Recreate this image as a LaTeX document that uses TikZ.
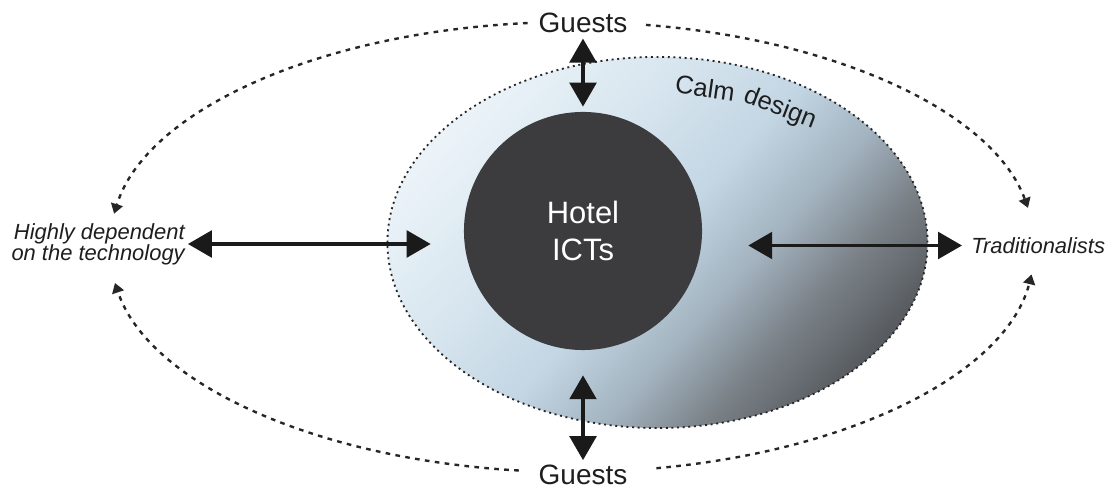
\documentclass[tikz,border=0pt]{standalone}
\usepackage{fontspec}
\setmainfont{Liberation Sans}
\usetikzlibrary{shapes.geometric, arrows.meta}

\definecolor{calmwhite}{HTML}{EBF3F8}
\definecolor{calmlight}{HTML}{D8E6EF}
\definecolor{calmblue}{HTML}{C3D6E4}
\definecolor{calmmid}{HTML}{A3B3C0}
\definecolor{calmgrey}{HTML}{7A8187}
\definecolor{calmdark}{HTML}{585C61}
\definecolor{corefill}{HTML}{3C3C3E}
\definecolor{arrowink}{HTML}{1A1A1A}
\definecolor{dotink}{HTML}{262626}
\definecolor{labelink}{HTML}{1E1E1E}

\pgfdeclarehorizontalshading{calmshade}{100bp}{color(0bp)=(calmwhite); color(25bp)=(calmwhite); color(38bp)=(calmlight); color(50bp)=(calmblue); color(59bp)=(calmmid); color(67bp)=(calmgrey); color(75bp)=(calmdark); color(100bp)=(calmdark)}

\begin{document}
\begin{tikzpicture}[x=0.025cm, y=0.025cm,
  calmzone/.style={ellipse, shade, shading=calmshade, shading angle=-42,
    draw=dotink, line width=1.3pt, dash pattern=on 1.4pt off 2.6pt,
    minimum width=13.5cm, minimum height=9.275cm, inner sep=0pt},
  calmword/.style={inner sep=0pt, anchor=base, text=labelink,
    font=\fontsize{18.2}{22}\selectfont},
  ictcore/.style={circle, fill=corefill, minimum size=5.95cm, inner sep=0pt,
    text=white, align=center, font=\fontsize{22}{26}\selectfont},
  guest/.style={inner sep=0pt, text=labelink, font=\fontsize{19.9}{24}\selectfont},
  userlabel/.style={inner sep=0pt, text=labelink, font=\itshape\fontsize{15.6}{14.8}\selectfont},
  biarrow/.style={{Triangle[length=17pt,width=19pt]}-{Triangle[length=17pt,width=19pt]},
    line width=2.3pt, draw=arrowink, fill=arrowink},
  orbit/.style={-{Triangle[length=7pt,width=8.5pt]}, line width=1.7pt,
    draw=dotink, dash pattern=on 3.3pt off 3.8pt}]

  \useasboundingbox (0,0) rectangle (1107,492);

  \node[calmzone] (calm) at (657.5,249.5) {};
  \node[ictcore] (hotel) at (583,261) {Hotel\\ICTs};

  % the two words sit on the rim, turned with it
  \node[calmword, rotate=-8] (calmw) at ([shift={(78.5:233 and 148.5)}]calm.center) {Calm};
  \node[calmword, rotate=-21] (designw) at ([shift={(59:233 and 148.5)}]calm.center) {design};

  \node[guest, anchor=base] (gtop) at (583,459) {Guests};
  \node[guest, anchor=base] (gbot) at (583,7) {Guests};
  \node[userlabel, align=right, anchor=east] (dep) at (185,248) {Highly dependent\\on the technology};
  \node[userlabel, anchor=west] (trad) at (971,246.5) {Traditionalists};

  \draw[biarrow, shorten <=3.6pt, shorten >=3.6pt] (gtop.south) -- (hotel.north);
  \draw[biarrow, shorten <=17.8pt, shorten >=3.6pt] (hotel.south) -- (gbot.north);
  \draw[biarrow, shorten <=2.1pt, shorten >=23.5pt] (dep.east) -- (dep.east -| hotel.west);
  \draw[biarrow, shorten <=32.7pt, shorten >=6.4pt] (trad.west -| hotel.east) -- (trad.west);

  % outer ring of guests, broken at the labels
  \coordinate (ring) at (572,245);
  \foreach \a/\b in {95.5/171.5, 80.8/10, 263.4/189.2, -79.5/-7}
    \draw[orbit] ([shift={(\a:463 and 225)}]ring)
      arc[start angle=\a, end angle=\b, x radius=463, y radius=225];
\end{tikzpicture}
\end{document}
